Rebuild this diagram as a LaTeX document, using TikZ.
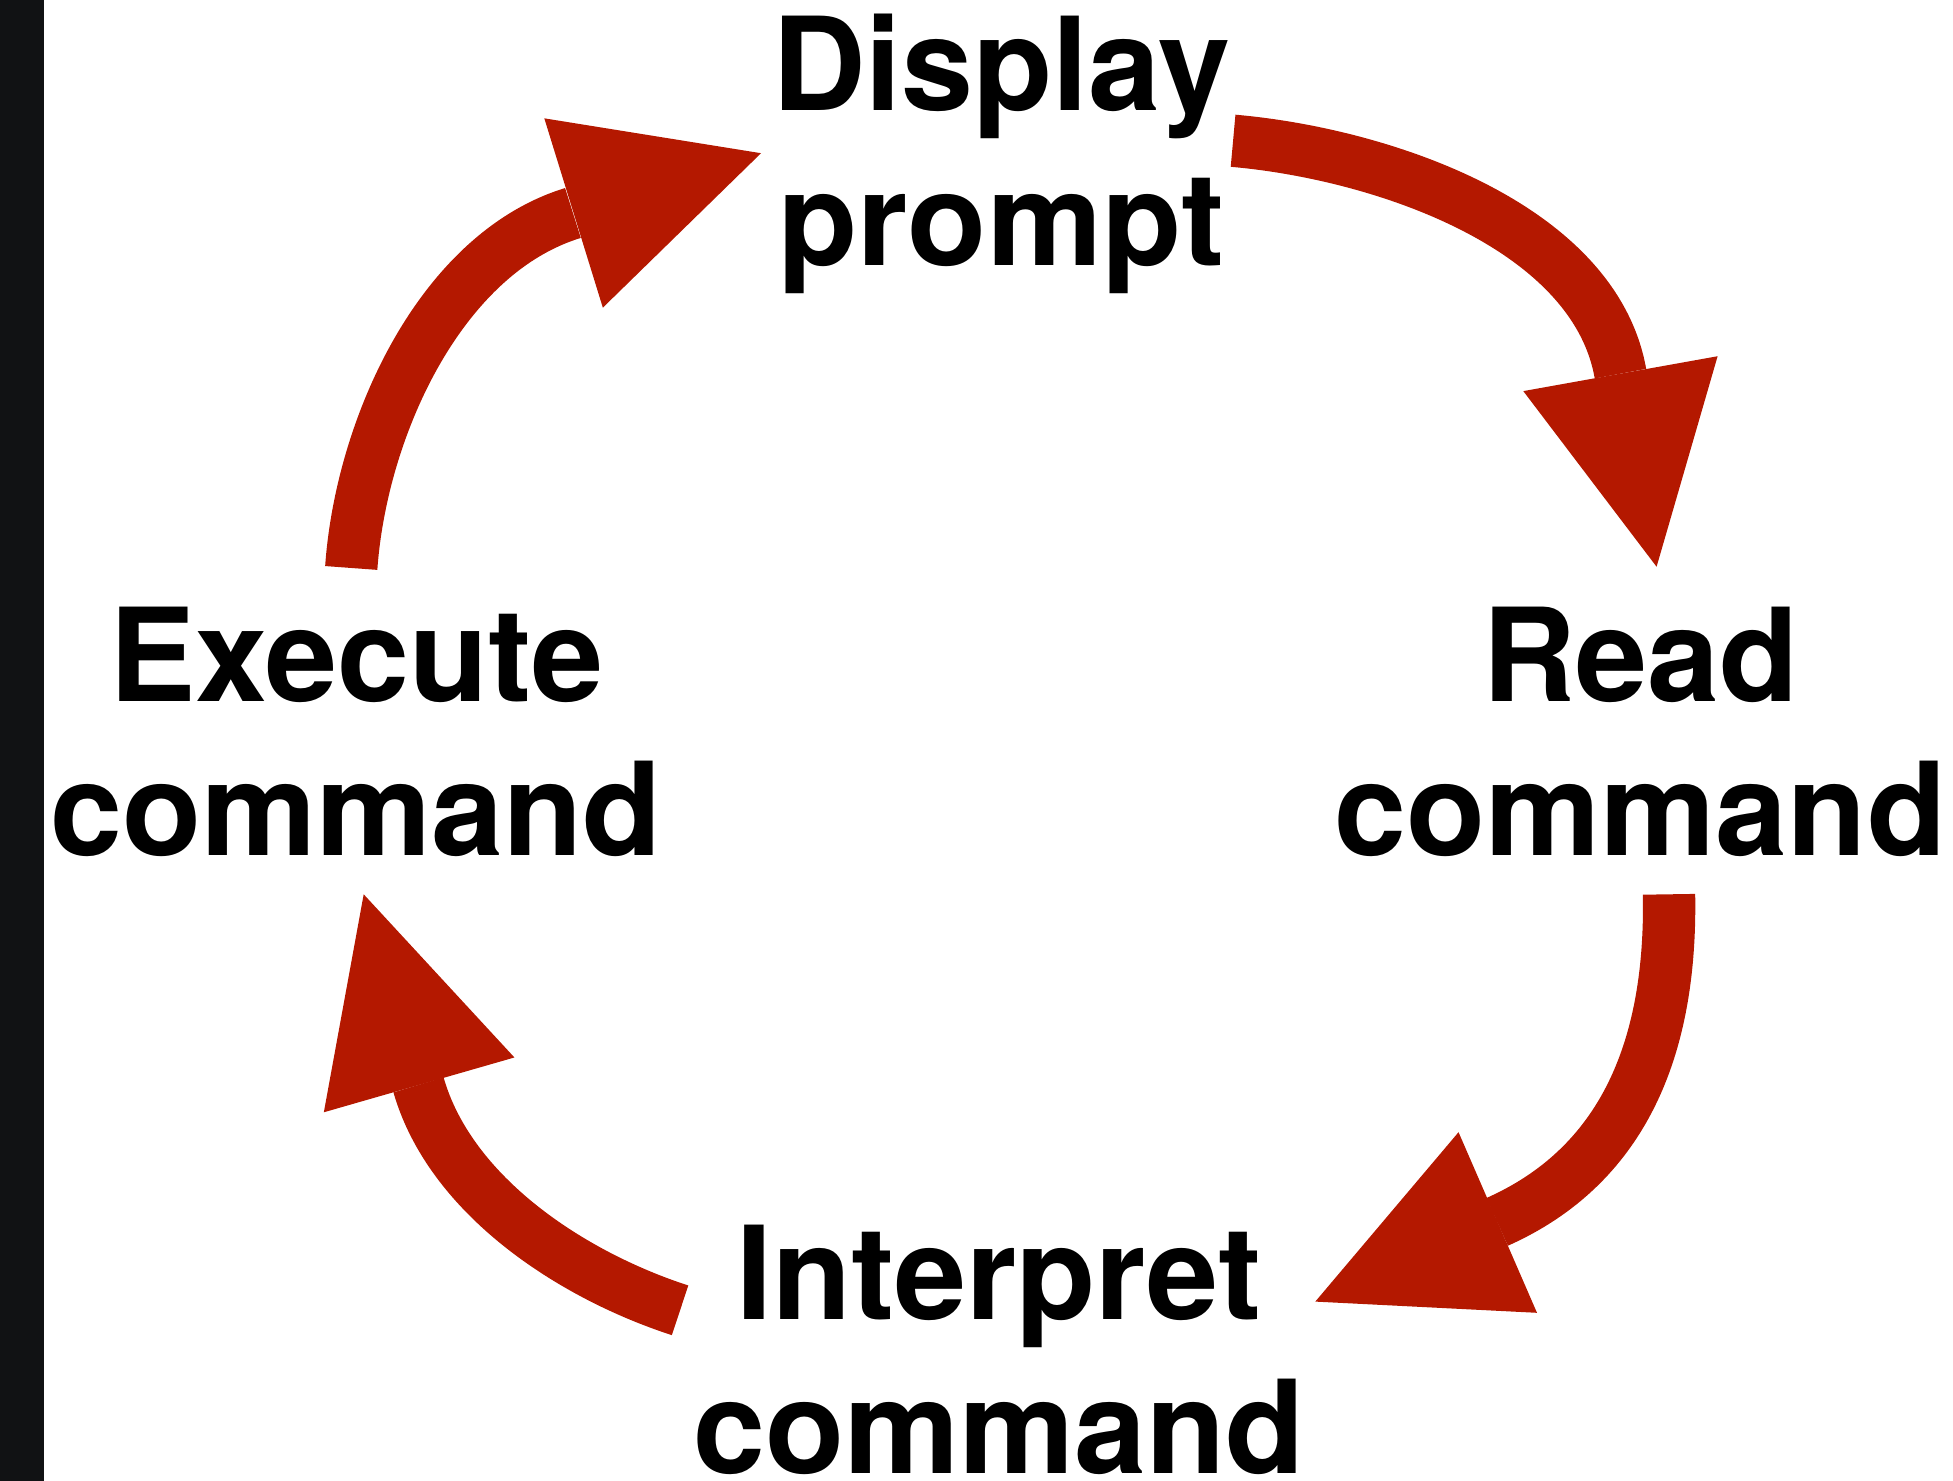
\documentclass[tikz,border=0pt]{standalone}
\usepackage{fontspec}
\setmainfont{TeX Gyre Heros}
\definecolor{arrowred}{RGB}{180,24,0}
\definecolor{barblack}{RGB}{17,18,20}
\begin{document}
\begin{tikzpicture}[x=0.5pt,y=0.5pt,
  lbl/.style={font=\fontsize{52pt}{62pt}\selectfont\bfseries, align=center, inner sep=0pt, anchor=base},
  shaft/.style={draw=arrowred, line width=21pt, line cap=butt},
  head/.style={fill=arrowred}]
\useasboundingbox (0,0) rectangle (1568,-1189);
\fill[barblack] (0,0) rectangle (35,-1189);
% labels (anchored at the baseline of their last line)
\node[lbl] (display) at (804,-213) {Display\\prompt};
\node[lbl] (execute) at (286,-687) {Execute\\command};
\node[lbl] (read) at (1317,-687) {Read\\command};
\node[lbl] (interpret) at (802,-1183) {Interpret\\command};
% arrow 1: execute -> display
\coordinate (a1s) at (282,-456);
\coordinate (a1e) at (460,-171);
\coordinate (a1t) at (611,-123);
\coordinate (a1l) at (437,-95);
\coordinate (a1r) at (484,-247);
\draw[shaft] (a1s) to[out=86,in=197,looseness=0.85] (a1e);
\fill[head] (a1l) -- (a1t) -- (a1r) -- cycle;
% arrow 2: display -> read
\coordinate (a2s) at (990,-113);
\coordinate (a2e) at (1301,-300);
\coordinate (a2t) at (1330,-455);
\coordinate (a2l) at (1223,-314);
\coordinate (a2r) at (1379,-286);
\draw[shaft] (a2s) to[out=-5,in=100,looseness=0.85] (a2e);
\fill[head] (a2l) -- (a2t) -- (a2r) -- cycle;
% arrow 3: read -> interpret
\coordinate (a3s) at (1340,-718);
\coordinate (a3e) at (1202,-981);
\coordinate (a3t) at (1056,-1045);
\coordinate (a3l) at (1171,-909);
\coordinate (a3r) at (1234,-1054);
\draw[shaft] (a3s) to[out=-89,in=24] (a3e);
\fill[head] (a3l) -- (a3t) -- (a3r) -- cycle;
% arrow 4: interpret -> execute
\coordinate (a4s) at (546,-1052);
\coordinate (a4e) at (336,-871);
\coordinate (a4t) at (292,-718);
\coordinate (a4l) at (260,-893);
\coordinate (a4r) at (413,-849);
\draw[shaft] (a4s) to[out=162,in=-74,looseness=0.85] (a4e);
\fill[head] (a4l) -- (a4t) -- (a4r) -- cycle;
\end{tikzpicture}
\end{document}
